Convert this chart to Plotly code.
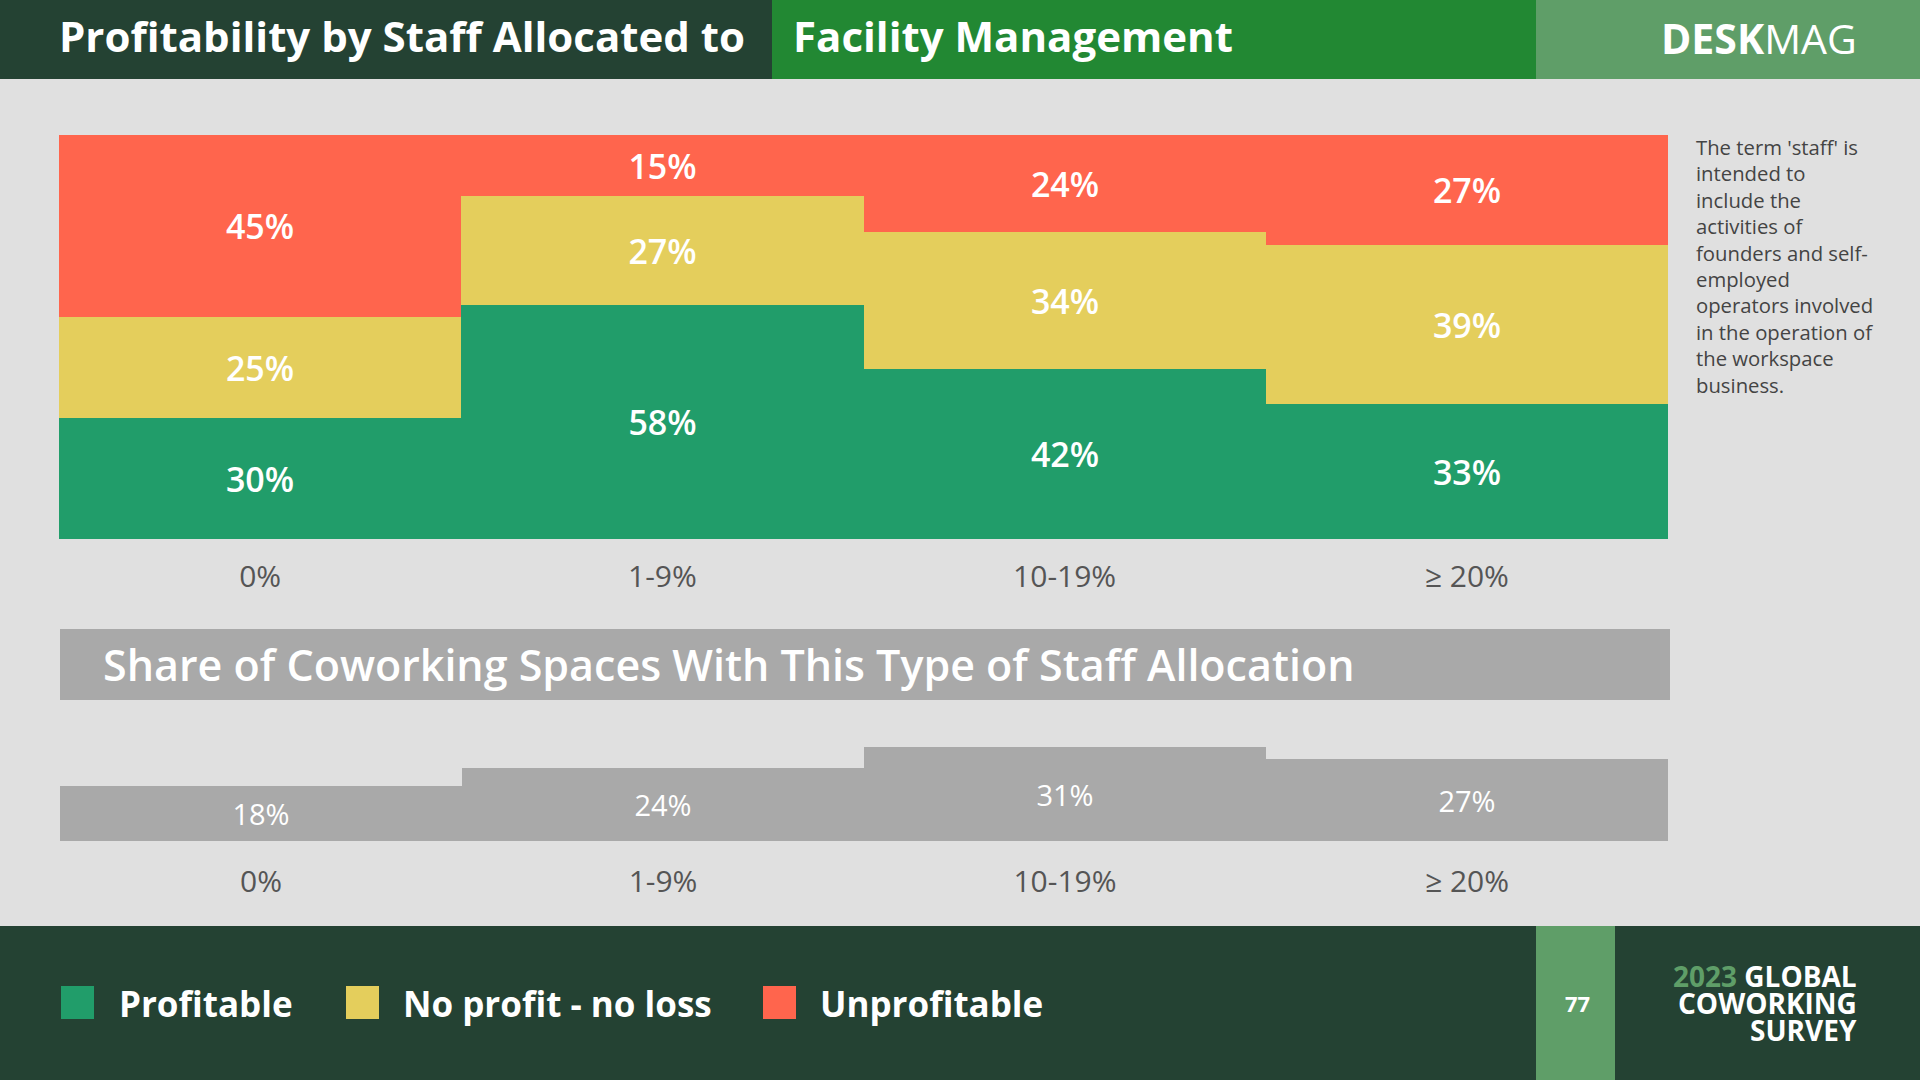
import plotly.graph_objects as go

# ---------------- data ----------------
categories = ["0%", "1-9%", "10-19%", "≥ 20%"]
profitable = [30, 58, 42, 33]
no_profit_no_loss = [25, 27, 34, 39]
unprofitable = [45, 15, 24, 27]
share_of_spaces = [18, 24, 31, 27]
series_names = ["Profitable", "No profit - no loss", "Unprofitable"]

title_left = "Profitability by Staff Allocated to"
title_right = "Facility Management"
subtitle = "Share of Coworking Spaces With This Type of Staff Allocation"
note_lines = ["The term 'staff' is", "intended to", "include the", "activities of",
              "founders and self-", "employed", "operators involved",
              "in the operation of", "the workspace", "business."]
page_number = "77"
survey_lines = ["GLOBAL", "COWORKING", "SURVEY"]
survey_year = "2023"

# ---------------- style ----------------
W, H = 1920, 1080
BG = "#e0e0e0"
DARK = "#244233"
GREEN_HDR = "#228833"
LIGHT_GREEN = "#5f9e68"
C_GREEN = "#219d6a"
C_YELLOW = "#e4ce5c"
C_RED = "#ff654d"
C_GRAY = "#a9a9a9"
FONT = "Open Sans"


def px(x):
    return x / W


def py(y):
    return 1 - y / H


# 100% stacking: normalise each column to its total
totals = [a + b + c for a, b, c in zip(profitable, no_profit_no_loss, unprofitable)]
series = [profitable, no_profit_no_loss, unprofitable]
colors = [C_GREEN, C_YELLOW, C_RED]

fig = go.Figure()
for name, vals, col in zip(series_names, series, colors):
    fig.add_trace(go.Bar(
        x=categories,
        y=[v / t * 100 for v, t in zip(vals, totals)],
        name=name,
        marker=dict(color=col, line=dict(width=0)),
        text=[f"{v}%" for v in vals],
        textposition="inside",
        insidetextanchor="middle",
        textfont=dict(family=FONT, size=34, color="white", weight=600),
        xaxis="x", yaxis="y",
        hoverinfo="skip",
        showlegend=False,
    ))

fig.add_trace(go.Bar(
    x=categories,
    y=share_of_spaces,
    name="Share",
    marker=dict(color=C_GRAY, line=dict(width=0)),
    text=[f"{v}%" for v in share_of_spaces],
    textposition="inside",
    insidetextanchor="middle",
    textfont=dict(family=FONT, size=29, color="white", weight=500),
    xaxis="x2", yaxis="y2",
    hoverinfo="skip",
    showlegend=False,
))

shapes = []
annotations = []

# header bands
shapes += [
    dict(type="rect", xref="paper", yref="paper", x0=0, x1=px(772), y0=py(79), y1=1,
         fillcolor=DARK, line_width=0, layer="below"),
    dict(type="rect", xref="paper", yref="paper", x0=px(772), x1=px(1536), y0=py(79), y1=1,
         fillcolor=GREEN_HDR, line_width=0, layer="below"),
    dict(type="rect", xref="paper", yref="paper", x0=px(1536), x1=1, y0=py(79), y1=1,
         fillcolor=LIGHT_GREEN, line_width=0, layer="below"),
    # footer
    dict(type="rect", xref="paper", yref="paper", x0=0, x1=1, y0=0, y1=py(926),
         fillcolor=DARK, line_width=0, layer="below"),
    dict(type="rect", xref="paper", yref="paper", x0=px(1536), x1=px(1615), y0=0, y1=py(926),
         fillcolor=LIGHT_GREEN, line_width=0, layer="below"),
    # subtitle banner
    dict(type="rect", xref="paper", yref="paper", x0=px(60), x1=px(1670), y0=py(700), y1=py(629),
         fillcolor=C_GRAY, line_width=0, layer="below"),
]

annotations += [
    dict(text=f"<b>{title_left}</b>", x=px(57), y=py(36), xref="paper", yref="paper",
         xanchor="left", yanchor="middle", showarrow=False,
         font=dict(family=FONT, size=42, color="white")),
    dict(text=f"<b>{title_right}</b>", x=px(791), y=py(36), xref="paper", yref="paper",
         xanchor="left", yanchor="middle", showarrow=False,
         font=dict(family=FONT, size=42, color="white")),
    dict(text="<b>DESK</b>MAG", x=px(1859), y=py(38), xref="paper", yref="paper",
         xanchor="right", yanchor="middle", showarrow=False,
         font=dict(family=FONT, size=41, color="white")),
    dict(text=subtitle, x=px(101), y=py(664), xref="paper", yref="paper",
         xanchor="left", yanchor="middle", showarrow=False,
         font=dict(family=FONT, size=43, color="white", weight=600)),
    dict(text="<br>".join(note_lines), x=px(1694), y=py(131), xref="paper", yref="paper",
         xanchor="left", yanchor="top", align="left", showarrow=False,
         font=dict(family=FONT, size=20.3, color="#444444", weight=500)),
    dict(text=f"<b>{page_number}</b>", x=px(1577), y=py(1003), xref="paper", yref="paper",
         xanchor="center", yanchor="middle", showarrow=False,
         font=dict(family=FONT, size=22, color="white")),
]

survey_texts = [f"<span style='color:{LIGHT_GREEN}'>{survey_year}</span> {survey_lines[0]}",
                survey_lines[1], survey_lines[2]]
for txt, yy in zip(survey_texts, [976, 1003, 1030]):
    annotations.append(dict(text=f"<b>{txt}</b>", x=px(1859), y=py(yy), xref="paper", yref="paper",
                            xanchor="right", yanchor="middle", showarrow=False, height=26,
                            font=dict(family=FONT, size=28, color="white")))

# legend (footer)
legend_sq_x = [61, 346, 763]
legend_txt_x = [117, 401, 818]
for name, col, sx, tx in zip(series_names, colors, legend_sq_x, legend_txt_x):
    shapes.append(dict(type="rect", xref="paper", yref="paper", x0=px(sx), x1=px(sx + 33),
                       y0=py(1019), y1=py(986), fillcolor=col, line_width=0))
    annotations.append(dict(text=f"<b>{name}</b>", x=px(tx), y=py(1003), xref="paper", yref="paper",
                            xanchor="left", yanchor="middle", showarrow=False,
                            font=dict(family=FONT, size=35, color="white")))

axis_common = dict(showgrid=False, zeroline=False, showline=False)

fig.update_layout(
    width=W, height=H,
    margin=dict(l=0, r=0, t=0, b=0),
    paper_bgcolor=BG, plot_bgcolor="rgba(0,0,0,0)",
    barmode="stack", bargap=0,
    showlegend=False,
    font=dict(family=FONT),
    xaxis=dict(domain=[px(59), px(1668)], anchor="y", ticks="outside", ticklen=11,
               tickcolor="rgba(0,0,0,0)",
               tickfont=dict(family=FONT, size=30, color="#555555"), **axis_common),
    yaxis=dict(domain=[py(539), py(135)], range=[0, 100], anchor="x", visible=False,
               **axis_common),
    xaxis2=dict(domain=[px(60), px(1668)], anchor="y2", ticks="outside", ticklen=14,
                tickcolor="rgba(0,0,0,0)",
                tickfont=dict(family=FONT, size=30, color="#555555"), **axis_common),
    yaxis2=dict(domain=[py(841), py(735)], range=[0, 35], anchor="x2", visible=False,
                **axis_common),
    shapes=shapes,
    annotations=annotations,
)

fig.write_html("out.html")
